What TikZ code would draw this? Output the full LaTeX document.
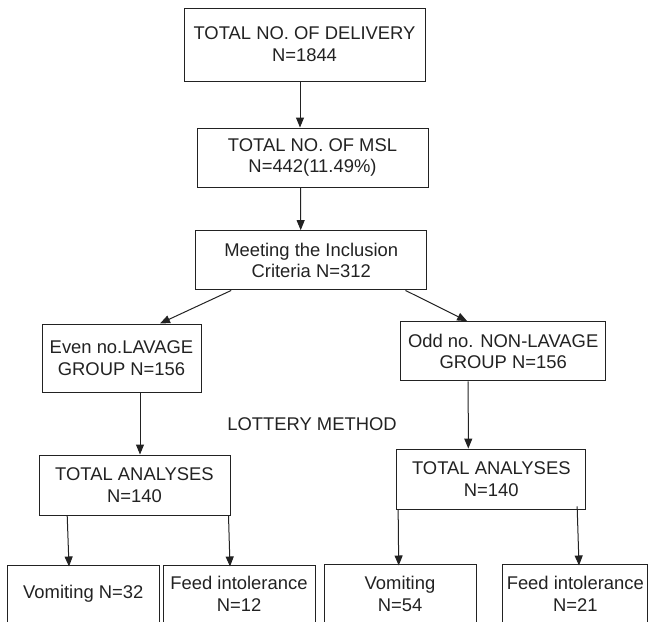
\documentclass[tikz,border=0pt]{standalone}
\usepackage{fontspec}
\setmainfont{Liberation Sans}
\usetikzlibrary{arrows.meta}
\definecolor{ink}{HTML}{222222}
\begin{document}
\begin{tikzpicture}[x=1pt,y=-1pt,
  every node/.style={font=\fontsize{18.4}{21.7}\selectfont, text=ink},
  boxnode/.style={draw=ink, line width=1pt, align=center, inner sep=0pt},
  arr/.style={draw=ink, line width=1pt, -{Triangle[length=10pt,width=8pt]}}]
\useasboundingbox (0,0) rectangle (649,622);
\clip (0,0) rectangle (649,622);
\node[boxnode, minimum width=241, minimum height=73] (d) at (304.5,44.5) {TOTAL NO. OF DELIVERY\\N=1844};
\node[boxnode, minimum width=231, minimum height=59] (m) at (312.5,157.5) {TOTAL NO. OF MSL\\N=442(11.49\%)};
\node[boxnode, minimum width=231, minimum height=59.3] (i) at (311.2,260.3) {Meeting the Inclusion\\Criteria N=312};
\node[boxnode, minimum width=159, minimum height=68] (e) at (121.5,358) {Even no.LAVAGE\\GROUP N=156};
\node[boxnode, minimum width=205, minimum height=59.3] (o) at (503.2,351.3) {Odd no. NON-LAVAGE\\GROUP N=156};
\node (lot) at (312,424) {LOTTERY METHOD};
\node[boxnode, minimum width=191, minimum height=60] (tl) at (134.5,485) {TOTAL ANALYSES\\N=140};
\node[boxnode, minimum width=189.3, minimum height=60.3] (tr) at (491.3,479.2) {TOTAL ANALYSES\\N=140};
\node[boxnode, minimum width=152, minimum height=58] (va) at (83.3,594) {Vomiting N=32};
\node[boxnode, minimum width=152, minimum height=58] (fa) at (239,594) {Feed intolerance\\N=12};
\node[boxnode, minimum width=152, minimum height=60] (vb) at (400,594) {Vomiting\\N=54};
\node[boxnode, minimum width=145.3, minimum height=60] (fb) at (575.3,594) {Feed intolerance\\N=21};
\draw[arr] ([xshift=-4.5]d.south) -- ([xshift=-12.5]m.north);
\draw[arr] ([xshift=-12]m.south) -- ([xshift=-10.5]i.north);
\draw[arr] ([xshift=36]i.south west) -- ([xshift=38.5]e.north);
\draw[arr] ([xshift=-21.7]i.south east) -- ([xshift=-36]o.north);
\draw[arr] ([xshift=18.5]e.south) -- ([xshift=5.5]tl.north);
\draw[arr] ([xshift=-35]o.south) -- ([xshift=-23]tr.north);
\draw[arr] ([xshift=28.7]tl.south west) -- ([xshift=-14.3,yshift=-2]va.north);
\draw[arr] ([xshift=-2]tl.south east) -- ([xshift=-9,yshift=-2]fa.north);
\draw[arr] ([xshift=2]tr.south west) -- ([xshift=-1.3,yshift=-2]vb.north);
\draw[arr] ([xshift=-9.3,yshift=3.4]tr.south east) -- ([xshift=3.7,yshift=-2]fb.north);
\end{tikzpicture}
\end{document}
